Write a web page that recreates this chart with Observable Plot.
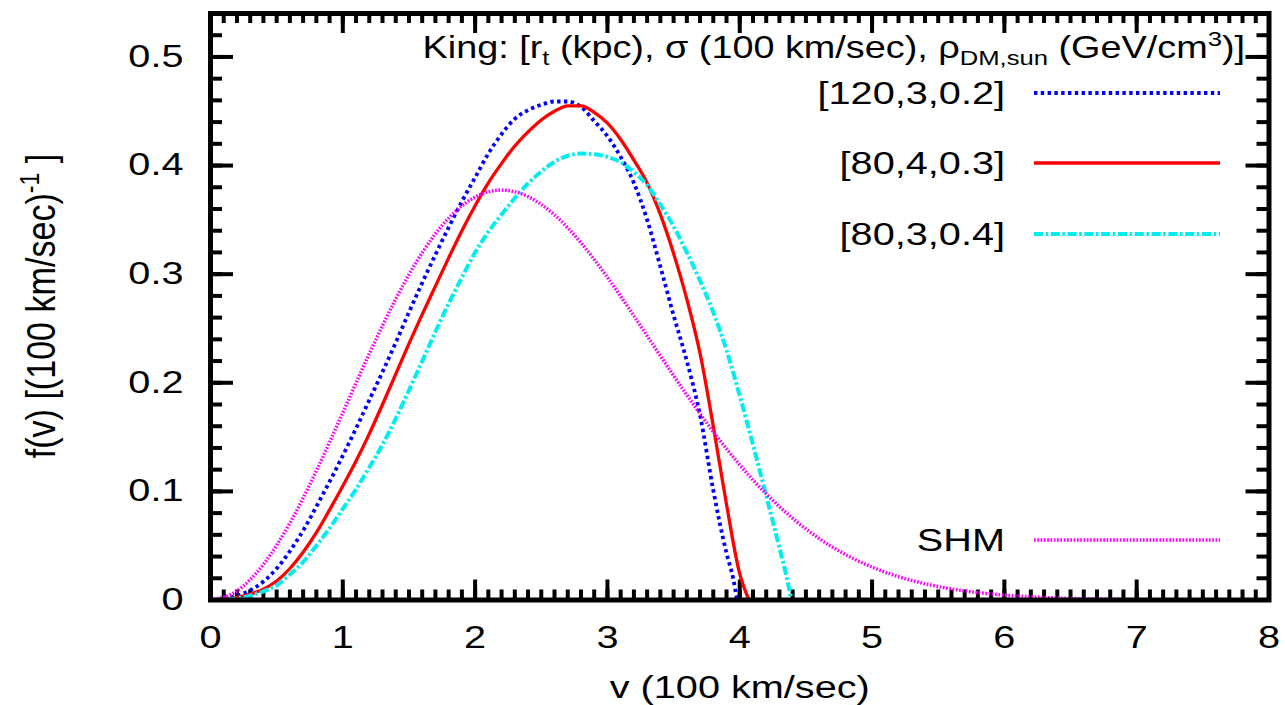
<!DOCTYPE html>
<html><head><meta charset="utf-8">
<script src="https://cdn.jsdelivr.net/npm/d3@7"></script>
<script src="https://cdn.jsdelivr.net/npm/@observablehq/plot@0.6"></script>
<style>
body{margin:0;background:#fff;}
svg text{white-space:pre;}
</style>
</head><body>
<script>
// ---------- data ----------
const xTicks = [0,1,2,3,4,5,6,7,8];
const xTickLabels = ["0","1","2","3","4","5","6","7","8"];
const yTicks = [0,0.1,0.2,0.3,0.4,0.5];
const yTickLabels = ["0","0.1","0.2","0.3","0.4","0.5"];
const xLabel = "v (100 km/sec)";
const seriesNames = ["[120,3,0.2]","[80,4,0.3]","[80,3,0.4]","SHM"];

// King [120,3,0.2]
const kingA_v = [0,0.1,0.2,0.3,0.4,0.5,0.6,0.7,0.8,0.9,1.0,1.1,1.2,1.3,1.4,1.5,1.6,1.7,1.8,1.9,2.0,2.1,2.2,2.3,2.4,2.5,2.6,2.7,2.8,2.9,3.0,3.1,3.2,3.3,3.4,3.5,3.6,3.7,3.8,3.9,3.95,3.98];
const kingA_f = [0,0.001,0.004,0.009,0.017,0.029,0.045,0.064,0.086,0.109,0.133,0.158,0.184,0.210,0.237,0.265,0.292,0.318,0.343,0.367,0.389,0.411,0.429,0.443,0.451,0.456,0.459,0.459,0.454,0.441,0.427,0.408,0.384,0.350,0.307,0.262,0.220,0.170,0.101,0.043,0.020,0];
// King [80,4,0.3]
const kingB_v = [0,0.1,0.2,0.3,0.4,0.5,0.6,0.7,0.8,0.9,1.0,1.1,1.2,1.3,1.4,1.5,1.6,1.7,1.8,1.9,2.0,2.1,2.2,2.3,2.4,2.5,2.6,2.7,2.8,2.9,3.0,3.1,3.2,3.3,3.4,3.5,3.6,3.7,3.8,3.9,4.0,4.07];
const kingB_f = [0,0.0008,0.0025,0.0055,0.010,0.0175,0.029,0.044,0.062,0.083,0.105,0.128,0.153,0.180,0.208,0.236,0.263,0.289,0.315,0.340,0.363,0.384,0.402,0.418,0.431,0.442,0.450,0.455,0.455,0.449,0.439,0.424,0.405,0.384,0.355,0.319,0.277,0.227,0.160,0.088,0.024,0];
// King [80,3,0.4]
const kingC_v = [0,0.1,0.2,0.3,0.4,0.5,0.6,0.7,0.8,0.9,1.0,1.1,1.2,1.3,1.4,1.5,1.6,1.7,1.8,1.9,2.0,2.1,2.2,2.3,2.4,2.5,2.6,2.7,2.8,2.9,3.0,3.1,3.2,3.3,3.4,3.5,3.6,3.7,3.8,3.9,4.0,4.1,4.2,4.3,4.36,4.39];
const kingC_f = [0,0.0003,0.0015,0.004,0.008,0.0135,0.0235,0.035,0.050,0.066,0.084,0.102,0.122,0.143,0.167,0.193,0.220,0.247,0.273,0.297,0.320,0.339,0.355,0.370,0.3835,0.3945,0.4035,0.409,0.411,0.4105,0.408,0.403,0.394,0.382,0.364,0.344,0.320,0.294,0.265,0.230,0.188,0.143,0.096,0.048,0.018,0];
// SHM
const shm_v = [0,0.2,0.4,0.6,0.8,1.0,1.2,1.4,1.6,1.8,2.0,2.2,2.4,2.6,2.8,3.0,3.2,3.4,3.6,3.8,4.0,4.2,4.4,4.6,4.8,5.0,5.2,5.4,5.6,5.8,6.0,6.2,6.4,6.6,6.8,7.0];
const shm_f = [0,0.0084,0.0328,0.0708,0.1188,0.1724,0.2267,0.2771,0.3197,0.3516,0.3710,0.3774,0.3714,0.3545,0.3289,0.2971,0.2616,0.2248,0.1888,0.1549,0.1244,0.0977,0.0752,0.0566,0.0418,0.0303,0.0215,0.0150,0.0102,0.0068,0.0045,0.0029,0.0018,0.0011,0.0007,0.0004];

// ---------- styles ----------
const seriesColors = ["#0000ff","#ff0000","#00eef0","#ff00ff"];
const seriesDash = ["3.4,3.4", null, "9,2.6,2.6,2.6", "1.7,1.6"];
const seriesWidth = [3.8, 3.3, 4, 3.5];
const FONT = "'Liberation Sans', Arial, Helvetica, sans-serif";
const FS = 31;
const SX = 1.28; // horizontal text stretch

const W = 1285, H = 705;
const mL = 210, mR = 16.5, mT = 13, mB = 105.5;
const innerW = W - mL - mR, innerH = H - mT - mB;

const mk = (vs, fs) => vs.map((v, i) => ({v, f: fs[i]}));
const series = [mk(kingA_v, kingA_f), mk(kingB_v, kingB_f), mk(kingC_v, kingC_f), mk(shm_v, shm_f)];

const xMinor = d3.range(1, 80).map(i => i / 10);
const yMinor = d3.range(1, 27).map(i => i / 50);
const tickStyle = {stroke: "black", strokeWidth: 4};

const svg = Plot.plot({
  width: W, height: H,
  marginLeft: mL, marginRight: mR, marginTop: mT, marginBottom: mB,
  style: {fontFamily: FONT, background: "white", color: "black", overflow: "visible"},
  x: {domain: [0, 8]},
  y: {domain: [0, 0.54]},
  marks: [
    // ticks (inward, mirrored)
    Plot.tickX(xMinor, {insetTop: innerH - 10, ...tickStyle}),
    Plot.tickX(xMinor, {insetBottom: innerH - 10, ...tickStyle}),
    Plot.tickX(xTicks, {insetTop: innerH - 20, ...tickStyle}),
    Plot.tickX(xTicks, {insetBottom: innerH - 20, ...tickStyle}),
    Plot.tickY(yMinor, {insetRight: innerW - 12, ...tickStyle}),
    Plot.tickY(yMinor, {insetLeft: innerW - 12, ...tickStyle}),
    Plot.tickY(yTicks, {insetRight: innerW - 23, ...tickStyle}),
    Plot.tickY(yTicks, {insetLeft: innerW - 23, ...tickStyle}),
    // curves
    ...series.map((d, i) => Plot.line(d, {
      x: "v", y: "f", curve: "monotone-x",
      stroke: seriesColors[i], strokeWidth: seriesWidth[i],
      strokeDasharray: seriesDash[i], strokeLinecap: "butt"
    })),
    Plot.frame({stroke: "black", strokeWidth: 5}),
    // axes labels
    Plot.axisX(xTicks, {tickSize: 0, tickPadding: 26, fontSize: FS, label: null,
      tickFormat: d => xTickLabels[xTicks.indexOf(d)]}),
    Plot.axisY(yTicks, {tickSize: 0, tickPadding: 27, fontSize: FS, label: null,
      tickFormat: d => yTickLabels[yTicks.indexOf(d)]}),
    Plot.text([xLabel], {frameAnchor: "bottom", dy: 88, fontSize: FS, lineAnchor: "middle", fill: "black"})
  ]
});

// stretch plot text horizontally
svg.querySelectorAll("text").forEach(t => {
  const tr = t.getAttribute("transform");
  if (tr) t.setAttribute("transform", tr + ` scale(${SX},1)`);
  else {
    const x = +t.getAttribute("x") || 0, y = +t.getAttribute("y") || 0;
    t.removeAttribute("x"); t.removeAttribute("y");
    t.setAttribute("transform", `translate(${x},${y}) scale(${SX},1)`);
  }
});

document.body.appendChild(svg);

// ---------- y label & legend ----------
const g = d3.select(svg).append("g")
  .attr("font-family", FONT).attr("font-size", FS).attr("fill", "black");

const yl = g.append("text").attr("text-anchor", "middle")
  .attr("transform", "translate(55,306) rotate(-90) scale(1.1,1.3)");
yl.append("tspan").text("f(v) [(100 km/sec)");
yl.append("tspan").attr("font-size", 21).attr("dy", -12).text("-1");
yl.append("tspan").attr("dy", 12).text(" ]");

const tt = g.append("text").attr("text-anchor", "end")
  .attr("transform", `translate(1245,58) scale(1.22,1)`);
tt.append("tspan").text("King: [r");
tt.append("tspan").attr("font-size", 21).attr("dy", 7).text("t");
tt.append("tspan").attr("dy", -7).text(" (kpc), σ (100 km/sec), ρ");
tt.append("tspan").attr("font-size", 21).attr("dy", 7).text("DM,sun");
tt.append("tspan").attr("dy", -7).text(" (GeV/cm");
tt.append("tspan").attr("font-size", 21).attr("dy", -12).text("3");
tt.append("tspan").attr("dy", 12).text(")]");

const rowY = [93, 163, 234, 540];
seriesNames.forEach((name, i) => {
  g.append("text").attr("text-anchor", "end")
    .attr("transform", `translate(1005,${rowY[i] + 11}) scale(${SX},1)`).text(name);
  g.append("line").attr("x1", 1034).attr("x2", 1220).attr("y1", rowY[i]).attr("y2", rowY[i])
    .attr("stroke", seriesColors[i]).attr("stroke-width", seriesWidth[i])
    .attr("stroke-dasharray", seriesDash[i]);
});
</script>
</body></html>
